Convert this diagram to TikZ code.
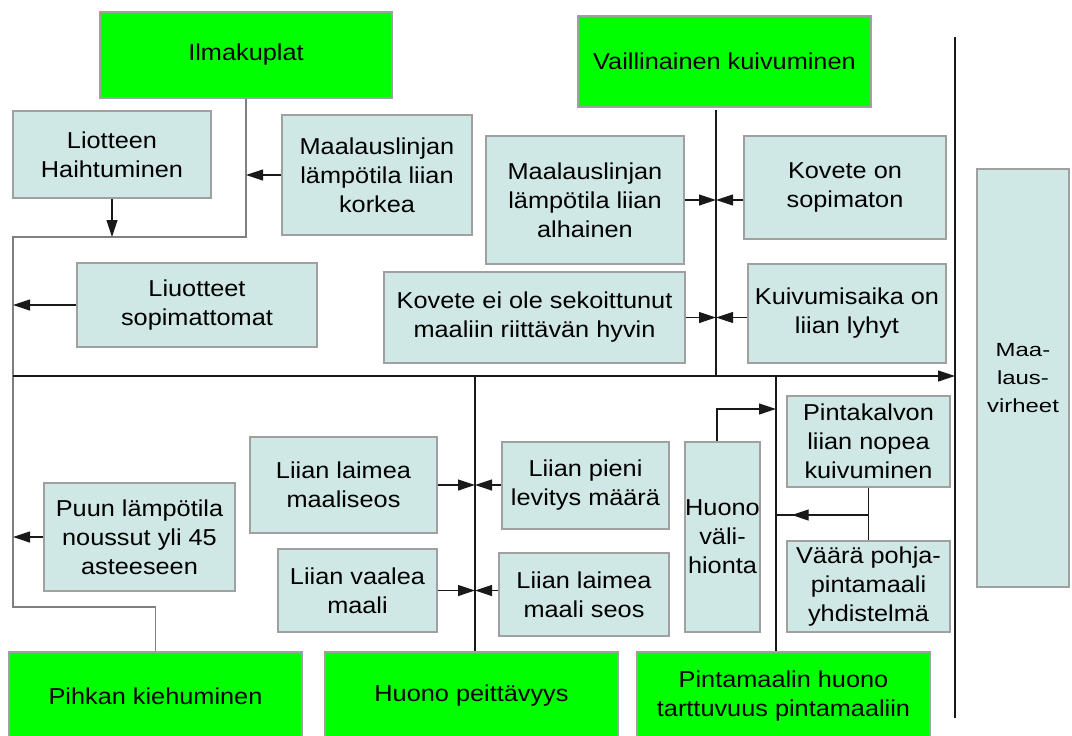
\documentclass[tikz,border=0pt]{standalone}
\usepackage{fontspec}
\setmainfont{Liberation Sans}[FakeStretch=1.1]
\newfontfamily\widesans{Liberation Sans}[FakeStretch=1.26]
\usetikzlibrary{arrows.meta,decorations.markings}
\definecolor{causefill}{RGB}{207,231,229}
\definecolor{boxline}{RGB}{160,160,160}
\definecolor{effectfill}{RGB}{0,255,0}
\definecolor{branchgray}{RGB}{128,128,128}
\definecolor{linedark}{RGB}{25,25,25}

\begin{document}
\begin{tikzpicture}[x=1pt,y=-1pt,
  every node/.style={inner sep=0pt, align=center, font=\fontsize{23}{29}\selectfont},
  cause/.style={draw=boxline, fill=causefill, line width=1.2pt},
  effect/.style={draw=boxline, fill=effectfill, line width=1.2pt},
  bone/.style={draw=linedark, line width=1.2pt},
  twig/.style={draw=branchgray, line width=1.2pt},
  tip/.style={-{Triangle[length=17pt,width=11pt]}},
  midtip/.style={postaction={decorate}, decoration={markings,
      mark=at position 0.83 with {\arrow{Triangle[length=17pt,width=11pt]}}}},
]
\fill[white] (0,0) rectangle (1072,736);
\useasboundingbox (0,0) rectangle (1072,736);

% main categories
\node[effect, minimum width=292pt, minimum height=86pt] (ilma)   at (246,55)     {Ilmakuplat};
\node[effect, minimum width=293pt, minimum height=91pt] (vaill)  at (724.5,61.5) {Vaillinainen kuivuminen};
\node[effect, minimum width=293pt, minimum height=88pt] (pihkan) at (155.5,696)  {Pihkan kiehuminen};
\node[effect, minimum width=293pt, minimum height=88pt] (peitt)  at (471.5,696)  {Huono peittävyys};
\node[effect, minimum width=293pt, minimum height=88pt] (tart)   at (783.5,696)  {Pintamaalin huono\\tarttuvuus pintamaaliin};

% causes
\node[cause, minimum width=198pt, minimum height=87pt]  (liot)   at (112,154.5)  {Liotteen\\Haihtuminen};
\node[cause, minimum width=190pt, minimum height=120pt] (korkea) at (377,175)    {Maalauslinjan\\lämpötila liian\\korkea};
\node[cause, minimum width=240pt, minimum height=84pt]  (liuot)  at (197,305)    {Liuotteet\\sopimattomat};
\node[cause, minimum width=198pt, minimum height=128pt] (alh)    at (585,200)    {Maalauslinjan\\lämpötila liian\\alhainen};
\node[cause, minimum width=301pt, minimum height=91pt]  (kei)    at (534.5,317.5){Kovete ei ole sekoittunut\\maaliin riittävän hyvin};
\node[cause, minimum width=202pt, minimum height=103pt] (kos)    at (845,187.5)  {Kovete on\\sopimaton};
\node[cause, minimum width=198pt, minimum height=99pt]  (kuiv)   at (847,313.5)  {Kuivumisaika on\\liian lyhyt};
\node[cause, minimum width=92pt,  minimum height=418pt, font=\widesans\fontsize{19}{28}\selectfont] (mv) at (1023,378) {Maa-\\laus-\\virheet};
\node[cause, minimum width=191pt, minimum height=108pt] (puun)   at (139.5,537)  {Puun lämpötila\\noussut yli 45\\asteeseen};
\node[cause, minimum width=187pt, minimum height=96pt]  (lm)     at (343.5,485)  {Liian laimea\\maaliseos};
\node[cause, minimum width=159pt, minimum height=83pt]  (lv)     at (357.5,590.5){Liian vaalea\\maali};
\node[cause, minimum width=167pt, minimum height=87pt]  (lp)     at (585.5,485.5){Liian pieni\\levitys määrä};
\node[cause, minimum width=170pt, minimum height=83pt]  (lms)    at (584,594.5)  {Liian laimea\\maali seos};
\node[cause, minimum width=75pt,  minimum height=190pt] (hv)     at (722.5,537)  {Huono\\väli-\\hionta};
\node[cause, minimum width=163pt, minimum height=91pt]  (pk)     at (868.5,441.5){Pintakalvon\\liian nopea\\kuivuminen};
\node[cause, minimum width=163pt, minimum height=91pt]  (vp)     at (868.5,586.5){Väärä pohja-\\pintamaali\\yhdistelmä};

% junction points of the bones
\coordinate (elbowA) at (246,237);
\coordinate (elbowB) at (13,237);
\coordinate (elbowC) at (13,607);
\coordinate (elbowD) at (155.5,607);
\coordinate (spineL) at (13,376);
\coordinate (spineR) at (955,376);
\coordinate (headT)  at (955,37);
\coordinate (headB)  at (955,718);
\coordinate (dryT)   at (716,110);
\coordinate (dryB)   at (716,376);
\coordinate (covT)   at (475,376);
\coordinate (adhT)   at (776,376);
\coordinate (sandKnee) at (717,409);
\coordinate (jn)     at (868.5,515);

% left branch: Ilmakuplat and Pihkan kiehuminen
\draw[twig] (ilma.south) -- (elbowA) -- (elbowB) -- (elbowC) -- (elbowD) -- (pihkan.north);
\draw[bone, tip] (korkea.west) -- (korkea.west -| elbowA);
\draw[bone, tip] (liot.south) -- (liot.south |- elbowB);
\draw[bone, tip] (liuot.west) -- (liuot.west -| elbowB);
\draw[bone, tip] (puun.west) -- (puun.west -| elbowB);

% spine and head line
\draw[bone, tip] (spineL) -- (spineR);
\draw[bone] (headT) -- (headB);

% Vaillinainen kuivuminen
\draw[bone] (dryT) -- (dryB);
\draw[bone, tip] (alh.east) -- (alh.east -| dryT);
\draw[bone, tip] (kos.west |- alh.east) -- (alh.east -| dryT);
\draw[bone, tip] (kei.east) -- (kei.east -| dryT);
\draw[bone, tip] (kuiv.west |- kei.east) -- (kei.east -| dryT);

% Huono peittävyys
\draw[bone] (covT) -- (covT |- peitt.north);
\draw[bone, tip] (lm.east) -- (lm.east -| covT);
\draw[bone, tip] (lp.west |- lm.east) -- (lm.east -| covT);
\draw[bone, tip] (lv.east) -- (lv.east -| covT);
\draw[bone, tip] (lms.west |- lv.east) -- (lv.east -| covT);

% Pintamaalin huono tarttuvuus
\draw[bone] (adhT) -- (adhT |- tart.north);
\draw[bone, tip] ([xshift=-5.5pt]hv.north) |- (adhT |- sandKnee);
\draw[bone] (pk.south) -- (vp.north);
\draw[bone, midtip] (jn) -- (adhT |- jn);
\end{tikzpicture}
\end{document}
